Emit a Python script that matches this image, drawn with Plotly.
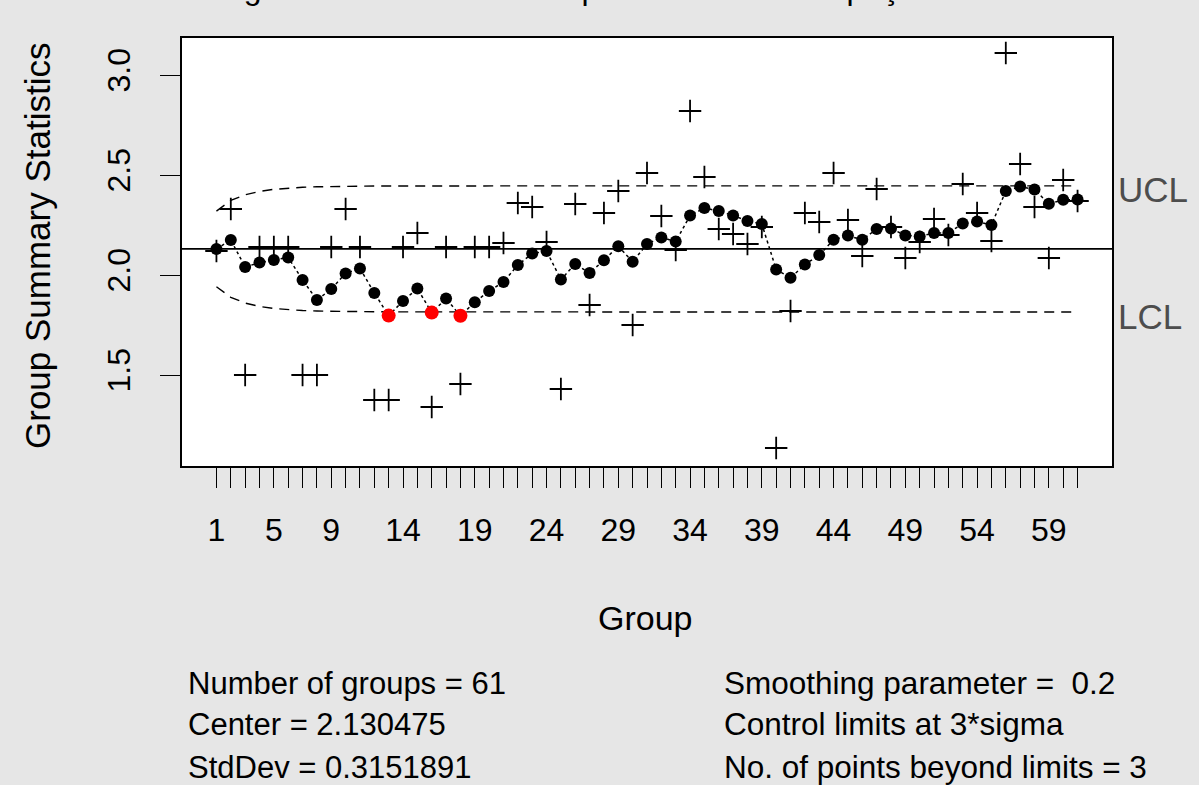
import plotly.graph_objects as go

# ---------------- data ----------------
groups = list(range(1, 62))

group_stats = [2.12, 2.33, 1.50, 2.14, 2.14, 2.14, 1.50, 1.50, 2.14, 2.33,
               2.14, 1.375, 1.375, 2.14, 2.21, 1.34, 2.14, 1.455, 2.14, 2.14,
               2.16, 2.36, 2.34, 2.165, 1.43, 2.355, 1.85, 2.31, 2.42, 1.75,
               2.51, 2.295, 2.125, 2.82, 2.49, 2.23, 2.205, 2.155, 2.24, 1.135,
               1.82, 2.31, 2.265, 2.51, 2.275, 2.095, 2.43, 2.24, 2.085, 2.165,
               2.28, 2.20, 2.455, 2.31, 2.17, 3.11, 2.555, 2.34, 2.085, 2.475,
               2.37]

ewma_values = [2.13, 2.175, 2.04, 2.062, 2.075, 2.088, 1.975, 1.875, 1.93, 2.008,
               2.033, 1.91, 1.797, 1.87, 1.932, 1.812, 1.882, 1.796, 1.864, 1.92,
               1.965, 2.05, 2.107, 2.12, 1.977, 2.055, 2.01, 2.074, 2.144, 2.066,
               2.155, 2.188, 2.167, 2.297, 2.335, 2.32, 2.298, 2.27, 2.255, 2.028,
               1.986, 2.052, 2.10, 2.176, 2.197, 2.176, 2.23, 2.232, 2.198, 2.193,
               2.21, 2.21, 2.257, 2.267, 2.25, 2.42, 2.442, 2.427, 2.356, 2.376,
               2.377]

center = 2.130475
limit_half_width = ([0.1891, 0.2422, 0.2707, 0.2875, 0.2978, 0.3042, 0.3082,
                     0.3107, 0.3123, 0.3134, 0.3140, 0.3144, 0.3147, 0.3149,
                     0.3150] + [0.3152] * 46)

x_tick_labels = {1: "1", 5: "5", 9: "9", 14: "14", 19: "19", 24: "24", 29: "29",
                 34: "34", 39: "39", 44: "44", 49: "49", 54: "54", 59: "59"}
y_tick_vals = [1.5, 2.0, 2.5, 3.0]
y_tick_text = ["1.5", "2.0", "2.5", "3.0"]

stats_left = ["Number of groups = 61", "Center = 2.130475", "StdDev = 0.3151891"]
stats_right = ["Smoothing parameter =  0.2", "Control limits at 3*sigma",
               "No. of points beyond limits = 3"]

title_text = "Figura 4 - Gráfico EWMA para a taxa de ocupação dos leitos"

# ---------------- derived ----------------
ucl = [center + h for h in limit_half_width]
lcl = [center - h for h in limit_half_width]
viol_x = [g for g, z, u, l in zip(groups, ewma_values, ucl, lcl) if z > u or z < l]
viol_y = [z for g, z, u, l in zip(groups, ewma_values, ucl, lcl) if z > u or z < l]

# ---------------- layout geometry ----------------
W, H = 1199, 785
L, R, T, B = 182, 1112, 38, 466
PW, PH = R - L, B - T


def px_x(px):
    return (px - L) / PW


def px_y(py):
    return (B - py) / PH


FONT = "Arial, Liberation Sans, sans-serif"

fig = go.Figure()

# limits
fig.add_trace(go.Scatter(x=groups, y=ucl, mode="lines",
                         line=dict(color="black", width=1.4, dash="10px,7px"),
                         hoverinfo="skip", showlegend=False))
fig.add_trace(go.Scatter(x=groups, y=lcl, mode="lines",
                         line=dict(color="black", width=1.4, dash="10px,7px"),
                         hoverinfo="skip", showlegend=False))

# group statistics
fig.add_trace(go.Scatter(x=groups, y=group_stats, mode="markers",
                         marker=dict(symbol="cross-thin", size=16,
                                     line=dict(color="black", width=1.8)),
                         showlegend=False))

# ewma
fig.add_trace(go.Scatter(x=groups, y=ewma_values, mode="lines+markers",
                         line=dict(color="black", width=1.5, dash="dot"),
                         marker=dict(symbol="circle", size=12, color="black"),
                         showlegend=False))

# out-of-control points
fig.add_trace(go.Scatter(x=viol_x, y=viol_y, mode="markers",
                         marker=dict(symbol="circle", size=14, color="red"),
                         showlegend=False))

# center line
fig.add_shape(type="line", xref="paper", x0=0, x1=1, yref="y", y0=center, y1=center,
              line=dict(color="black", width=1.6))

annotations = []
# UCL / LCL labels
annotations.append(dict(text="UCL", xref="paper", x=px_x(1116), xanchor="left",
                        yref="y", y=ucl[-1], yshift=-4, yanchor="middle",
                        showarrow=False, font=dict(family=FONT, size=35, color="#4D4D4D")))
annotations.append(dict(text="LCL", xref="paper", x=px_x(1116), xanchor="left",
                        yref="y", y=lcl[-1], yshift=-5, yanchor="middle",
                        showarrow=False, font=dict(family=FONT, size=35, color="#4D4D4D")))
# axis titles
annotations.append(dict(text="Group", xref="paper", x=px_x(645), xanchor="center",
                        yref="paper", y=px_y(618), yanchor="middle", showarrow=False,
                        font=dict(family=FONT, size=34, color="black")))
annotations.append(dict(text="Group Summary Statistics", xref="paper", x=px_x(37),
                        xanchor="center", yref="paper", y=px_y(246), yanchor="middle",
                        textangle=-90, showarrow=False,
                        font=dict(family=FONT, size=35, color="black")))
# stats
for i, (ltxt, rtxt) in enumerate(zip(stats_left, stats_right)):
    yy = [683, 724, 767][i]
    annotations.append(dict(text=ltxt, xref="paper", x=px_x(186), xanchor="left",
                            yref="paper", y=px_y(yy), yanchor="middle", showarrow=False,
                            font=dict(family=FONT, size=31, color="black")))
    annotations.append(dict(text=rtxt.replace("  ", "&nbsp; "), xref="paper", x=px_x(722),
                            xanchor="left", yref="paper", y=px_y(yy), yanchor="middle",
                            showarrow=False, font=dict(family=FONT, size=31.5, color="black")))
# title, cut off at the top edge as in the reference
annotations.append(dict(text=title_text, xref="paper", x=px_x(647), xanchor="center",
                        yref="paper", y=px_y(-12), yanchor="middle", showarrow=False,
                        font=dict(family=FONT, size=32, color="black")))

fig.update_layout(
    width=W, height=H,
    margin=dict(l=L, r=W - R, t=T, b=H - B, pad=0),
    paper_bgcolor="#E6E6E6", plot_bgcolor="white",
    font=dict(family=FONT, color="black"),
    annotations=annotations,
    showlegend=False,
)

fig.update_xaxes(range=[-1.4, 63.4], showgrid=False, zeroline=False,
                 showline=True, mirror=True, linecolor="black", linewidth=1.6,
                 tickmode="array", tickvals=groups,
                 ticktext=[x_tick_labels.get(g, "") for g in groups],
                 ticks="outside", ticklen=20, tickwidth=1.4, tickcolor="black",
                 tickfont=dict(family=FONT, size=32, color="black"),
                 ticklabelstandoff=15)
fig.update_yaxes(range=[1.045, 3.185], showgrid=False, zeroline=False,
                 showline=True, mirror=True, linecolor="black", linewidth=1.6,
                 tickmode="array", tickvals=y_tick_vals, ticktext=y_tick_text,
                 tickangle=-90,
                 ticks="outside", ticklen=20, tickwidth=1.4, tickcolor="black",
                 tickfont=dict(family=FONT, size=32, color="black"),
                 ticklabelstandoff=17)

fig.write_html("out.html")
